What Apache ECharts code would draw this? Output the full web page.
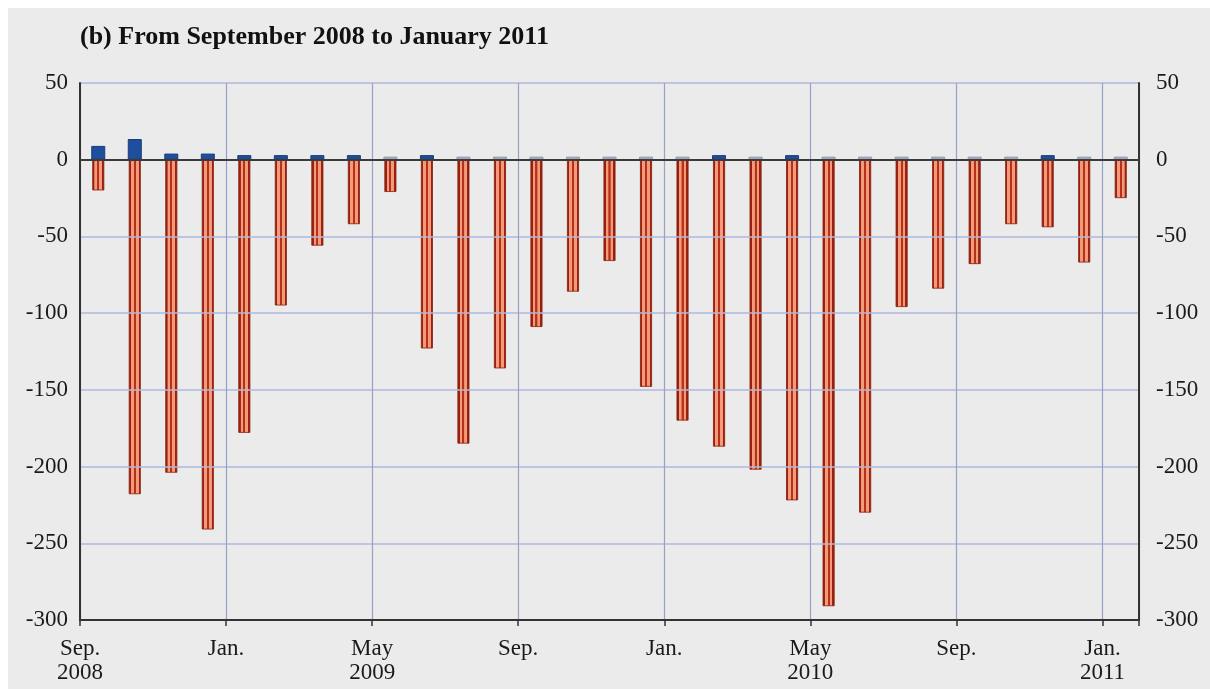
<!DOCTYPE html>
<html><head><meta charset="utf-8">
<script src="https://cdn.jsdelivr.net/npm/echarts@6/dist/echarts.min.js"></script>
<style>html,body{margin:0;background:#fff;}#c{position:absolute;left:8px;top:8px;width:1202px;height:681px;}</style>
</head><body><div id="c"></div><script>
const titleText = '(b) From September 2008 to January 2011';
const months = ['2008-09','2008-10','2008-11','2008-12','2009-01','2009-02','2009-03','2009-04','2009-05','2009-06','2009-07','2009-08','2009-09','2009-10','2009-11','2009-12','2010-01','2010-02','2010-03','2010-04','2010-05','2010-06','2010-07','2010-08','2010-09','2010-10','2010-11','2010-12','2011-01'];
const losses = [-20,-218,-204,-241,-178,-95,-56,-42,-21,-123,-185,-136,-109,-86,-66,-148,-170,-187,-202,-222,-291,-230,-96,-84,-68,-42,-44,-67,-25];
const gains = [9,13.5,4,4,3,3,3,3,2,3,2,2,2,2,2,2,2,3,2,3,2,2,2,2,2,2,3,2,2];
const tickPositions = [0,4,8,12,16,20,24,28];
const tickLabels = ['Sep.\n2008','Jan.','May\n2009','Sep.','Jan.','May\n2010','Sep.','Jan.\n2011'];
const yTicks = {min:-300, max:50, interval:50};

const serif = 'Liberation Serif';
const chart = echarts.init(document.getElementById('c'));
const redFill = new echarts.graphic.LinearGradient(0,0,1,0,[
  {offset:0,color:'#98220e'},{offset:0.18,color:'#98220e'},
  {offset:0.19,color:'#f49a7a'},{offset:0.41,color:'#f49a7a'},
  {offset:0.42,color:'#b5321a'},{offset:0.58,color:'#b5321a'},
  {offset:0.59,color:'#f49a7a'},{offset:0.81,color:'#f49a7a'},
  {offset:0.82,color:'#98220e'},{offset:1,color:'#98220e'}
]);
const gainData = gains.map(v => ({
  value: v,
  itemStyle: v >= 2.5 ? {color:'#1e4f9e', borderColor:'#173d7a', borderWidth:1}
                      : {color:'#aab3c2', borderColor:'#9099aa', borderWidth:1}
}));
const axisFont = {fontFamily: serif, fontSize: 23, color: '#1a1a1a'};
chart.setOption({
  backgroundColor: '#ebebeb',
  animation: false,
  title: {text: titleText, left: 72, top: 16, padding: 0,
    textStyle: {fontFamily: serif, fontWeight: 'bold', fontSize: 26, color: '#111'}},
  grid: {left: 72, right: 71, top: 75, bottom: 69, containLabel: false, outerBoundsMode: 'none'},
  xAxis: [
    {type: 'category', data: months, boundaryGap: true, position: 'bottom', z: 10,
      axisLine: {show: true, onZero: true, lineStyle: {color: '#3a3a3a', width: 2}},
      axisTick: {show: false}, axisLabel: {show: false}, splitLine: {show: false}},
    {type: 'category', data: months, boundaryGap: true, show: false, position: 'bottom'},
    {type: 'value', min: 0, max: months.length, interval: 4, position: 'bottom', z: 9,
      axisLine: {show: true, onZero: false, lineStyle: {color: '#333', width: 2}},
      axisTick: {show: true, length: 6, lineStyle: {color: '#333', width: 1.5}},
      axisLabel: Object.assign({margin: 17, lineHeight: 24,
        formatter: v => { const i = tickPositions.indexOf(v); return i >= 0 ? tickLabels[i] : ''; }}, axisFont),
      splitLine: {show: true, lineStyle: {color: '#96a0c8', width: 1.2}}}
  ],
  yAxis: [
    {type: 'value', min: yTicks.min, max: yTicks.max, interval: yTicks.interval, position: 'left', z: 9,
      axisLine: {show: true, onZero: false, lineStyle: {color: '#333', width: 2}},
      axisTick: {show: false},
      axisLabel: Object.assign({margin: 12}, axisFont),
      splitLine: {show: true, lineStyle: {color: '#b1b9dd', width: 1.5}}},
    {type: 'value', min: yTicks.min, max: yTicks.max, interval: yTicks.interval, position: 'right', z: 9,
      axisLine: {show: true, onZero: false, lineStyle: {color: '#333', width: 2}},
      axisTick: {show: false},
      axisLabel: Object.assign({margin: 17}, axisFont),
      splitLine: {show: false}}
  ],
  series: [
    {type: 'bar', name: 'losses', data: losses, xAxisIndex: 0, yAxisIndex: 0, barWidth: 12, z: 3,
      itemStyle: {color: redFill, borderColor: '#8a1e0c', borderWidth: 0.8}},
    {type: 'bar', name: 'gains', data: gainData, xAxisIndex: 1, yAxisIndex: 0, barWidth: 14, z: 3}
  ]
});
</script></body></html>
